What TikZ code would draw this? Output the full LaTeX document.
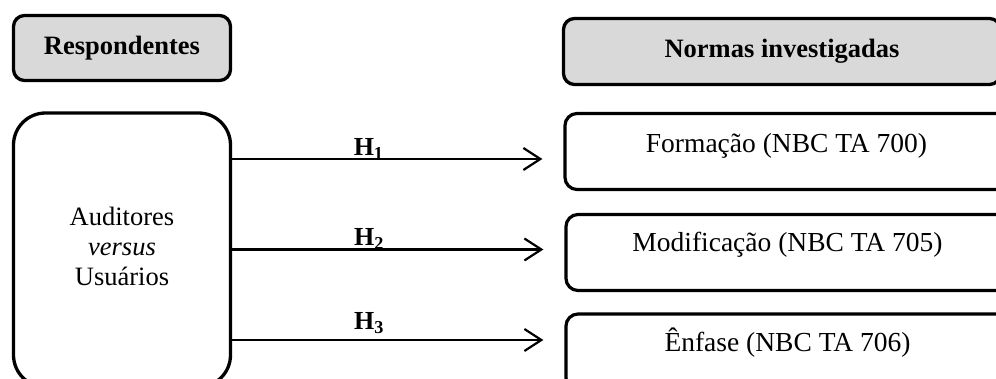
\documentclass[tikz,border=0pt]{standalone}
\usepackage{fontspec}
\setmainfont{Liberation Serif}
\usetikzlibrary{arrows.meta}
\definecolor{boxgray}{HTML}{D9D9D9}
\tikzset{
  hdr/.style={draw, line width=3.3pt, fill=boxgray, rounded corners=11pt, inner sep=0pt,
    font=\fontsize{26.5}{31}\selectfont\bfseries},
  normbox/.style={draw, line width=3.2pt, rounded corners=12pt, inner sep=0pt,
    minimum width=443pt, minimum height=76pt},
  bigbox/.style={draw, line width=3.3pt, rounded corners=32pt, inner sep=0pt},
  txt/.style={font=\fontsize{27.5}{30}\selectfont, align=center, inner sep=0pt},
  arr/.style={line width=2.2pt, -{Straight Barb[length=17pt,width=22pt]}},
  hlab/.style={font=\fontsize{26}{30}\selectfont\bfseries, inner sep=0pt, anchor=base}
}
\begin{document}
\begin{tikzpicture}[x=1pt,y=-1pt]
\useasboundingbox (0,0) rectangle (996,379);
\clip (0,0) rectangle (996,379);
% headers
\node[hdr, minimum width=217pt, minimum height=65pt] (resp) at (122,48) {Respondentes};
\node[hdr, minimum width=437pt, minimum height=66pt] (norm) at (782,51.5) {Normas investigadas};
% left big box
\node[bigbox, minimum width=217pt, minimum height=274pt] (resp2) at (122,250) {};
\node[txt, font=\fontsize{26.5}{30}\selectfont] (resptxt) at (122,246) {Auditores\\\textit{versus}\\Usuários};
% right boxes
\node[normbox] (form) at (786.5,151.5) {};
\node[txt] (formtxt) at ([yshift=6pt]form.center) {Formação (NBC TA 700)};
\node[normbox] (modi) at (787.5,252.5) {};
\node[txt] (moditxt) at ([yshift=8pt]modi.center) {Modificação (NBC TA 705)};
\node[normbox] (enf) at (787.5,352) {};
\node[txt] (enftxt) at ([yshift=9pt]enf.center) {Ênfase (NBC TA 706)};
% arrows
\coordinate (h1) at (0,159);
\coordinate (h2) at (0,249.5);
\coordinate (h3) at (0,340);
\draw[arr] (resp2.east |- h1) -- ([xshift=-21pt]form.west |- h1)
  node[hlab, pos=0.44, yshift=3.5pt] {H\textsubscript{1}};
\draw[arr] (resp2.east |- h2) -- ([xshift=-21pt]modi.west |- h2)
  node[hlab, pos=0.44, yshift=4pt] {H\textsubscript{2}};
\draw[arr] (resp2.east |- h3) -- ([xshift=-21pt]enf.west |- h3)
  node[hlab, pos=0.44, yshift=10pt] {H\textsubscript{3}};
\end{tikzpicture}
\end{document}
